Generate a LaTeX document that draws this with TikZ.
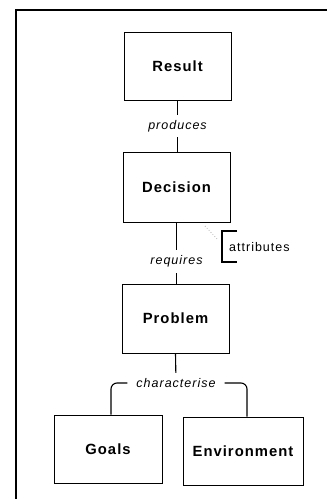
\documentclass[tikz,border=0pt]{standalone}
\usepackage{fontspec}
\setmainfont{Liberation Sans}
\newfontfamily\boxfont[LetterSpace=7]{Liberation Sans}
\newfontfamily\labfont[LetterSpace=8]{Liberation Sans}
\begin{document}
\begin{tikzpicture}[x=1pt,y=-1pt,
  entity/.style={draw, line width=0.9pt, minimum width=107pt, minimum height=68pt,
    inner sep=0pt, font=\boxfont\fontsize{14.8}{17}\selectfont\bfseries},
  rel/.style={fill=white, inner sep=3pt, font=\labfont\fontsize{12.5}{15}\selectfont\itshape},
  link/.style={line width=1.1pt}]
  \useasboundingbox (0,0) rectangle (327,499);
  % frame
  \draw[line width=1.1pt] (16,499) -- (16,10) -- (327,10);

  % entities
  \node[entity] (res) at (177.5,66) {Result};
  \node[entity, minimum height=70pt] (dec) at (176.5,187) {Decision};
  \node[entity, minimum height=69pt] (prob) at (175.5,318.5) {Problem};
  \node[entity, minimum width=108pt] (goals) at (108,449) {Goals};
  \node[entity, minimum width=120pt] (env) at (243,451) {Environment};

  % relations
  \draw[link] (res.south) -- node[rel, inner ysep=5pt] {produces} (res.south |- dec.north);
  \draw[link] (dec.south) -- node[rel, pos=0.64, inner ysep=6pt] {requires} (dec.south |- prob.north);

  \coordinate (split) at (176,383);
  \draw[link] (prob.south) -- (split);
  \node[rel, inner xsep=9pt, inner ysep=5pt] (char) at (split) {characterise};
  \draw[link, rounded corners=6pt] (char.west) -| ([xshift=3pt]goals.north);
  \draw[link, rounded corners=6pt] (char.east) -| ([xshift=4pt]env.north);

  % attribute bracket
  \coordinate (bt) at (237,231);
  \coordinate (bb) at (237,262);
  \draw[link] (bt) -- (222,231) -- (222,262) -- (bb);
  \node[anchor=west, inner sep=0pt, font=\labfont\fontsize{12.5}{15}\selectfont] (attr) at (229,247) {attributes};
  \coordinate (dotA) at (205,226);
  \draw[gray!60, dotted, line width=0.8pt] (dotA) -- (218,240);
\end{tikzpicture}
\end{document}
